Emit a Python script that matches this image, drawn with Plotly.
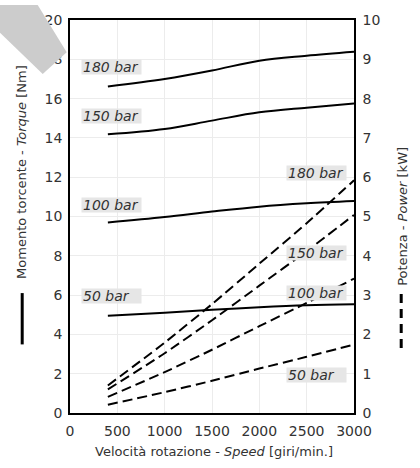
import plotly.graph_objects as go

speed = [400, 1000, 1500, 2000, 2500, 3000]
pressures = ["180 bar", "150 bar", "100 bar", "50 bar"]

torque = {
    "180 bar": [16.62, 17.00, 17.43, 17.93, 18.18, 18.38],
    "150 bar": [14.18, 14.45, 14.88, 15.30, 15.54, 15.75],
    "100 bar": [9.70, 9.97, 10.25, 10.50, 10.67, 10.79],
    "50 bar": [4.95, 5.10, 5.25, 5.38, 5.48, 5.53],
}
power = {
    "180 bar": [0.70, 1.79, 2.77, 3.80, 4.83, 5.92],
    "150 bar": [0.60, 1.52, 2.36, 3.24, 4.12, 5.04],
    "100 bar": [0.41, 1.04, 1.61, 2.21, 2.80, 3.42],
    "50 bar": [0.21, 0.53, 0.82, 1.13, 1.43, 1.74],
}
# label anchor positions (speed, value)
torque_label_x = 113
torque_label_y = {"180 bar": 17.6, "150 bar": 15.1, "100 bar": 10.58, "50 bar": 5.93}
power_label_x = 2284
power_label_y = {"180 bar": 6.11, "150 bar": 4.08, "100 bar": 3.05, "50 bar": 0.955}

x_ticks = [0, 500, 1000, 1500, 2000, 2500, 3000]
y_ticks = list(range(0, 21, 2))
y2_ticks = list(range(0, 11, 1))

FONT = "DejaVu Sans"
TXT = "#333333"

fig = go.Figure()
for p in pressures:
    fig.add_trace(go.Scatter(x=speed, y=torque[p], mode="lines", yaxis="y",
                             line=dict(color="black", width=2, shape="spline", smoothing=1),
                             hoverinfo="skip", showlegend=False))
for p in pressures:
    fig.add_trace(go.Scatter(x=speed, y=power[p], mode="lines", yaxis="y2",
                             line=dict(color="black", width=2, dash="10px,5px", shape="spline", smoothing=0.6),
                             hoverinfo="skip", showlegend=False))

annotations = []
for p in pressures:
    annotations.append(dict(x=torque_label_x, y=torque_label_y[p], xref="x", yref="y",
                            text=p, showarrow=False, xanchor="left", yanchor="middle",
                            align="left", width=57, height=12, borderpad=1,
                            bgcolor="#e6e6e6", font=dict(family=FONT, size=14, color=TXT, style="italic")))
    annotations.append(dict(x=power_label_x, y=power_label_y[p], xref="x", yref="y2",
                            text=p, showarrow=False, xanchor="left", yanchor="middle",
                            align="left", width=57, height=12, borderpad=1,
                            bgcolor="#e6e6e6", font=dict(family=FONT, size=14, color=TXT, style="italic")))


def px(xp):
    return (xp - 70.3) / 284


def py(yp):
    return (413.5 - yp) / 398.2


# axis titles
annotations.append(dict(x=px(214), y=py(453), xref="paper", yref="paper",
                        text="Velocità rotazione - <i>Speed</i> [giri/min.]", showarrow=False,
                        xanchor="center", yanchor="middle",
                        font=dict(family=FONT, size=13, color=TXT)))
annotations.append(dict(x=px(21), y=py(169.5), xref="paper", yref="paper",
                        text="Momento torcente - <i>Torque</i> [Nm]", showarrow=False, textangle=-90,
                        xanchor="center", yanchor="middle",
                        font=dict(family=FONT, size=13, color=TXT)))
annotations.append(dict(x=px(402), y=py(214), xref="paper", yref="paper",
                        text="Potenza - <i>Power</i> [kW]", showarrow=False, textangle=-90,
                        xanchor="center", yanchor="middle",
                        font=dict(family=FONT, size=13, color=TXT)))

shapes = [
    dict(type="line", xref="paper", yref="paper", x0=px(22.5), x1=px(22.5), y0=py(292), y1=py(344),
         line=dict(color="black", width=3)),
    dict(type="line", xref="paper", yref="paper", x0=px(401.5), x1=px(401.5), y0=py(293), y1=py(348),
         line=dict(color="black", width=3, dash="9px,6px")),
    dict(type="path", xref="paper", yref="paper", layer="above",
         path="M {:.4f},{:.4f} L {:.4f},{:.4f} L {:.4f},{:.4f} L {:.4f},{:.4f} L {:.4f},{:.4f} Z".format(
             px(0), py(0), px(38), py(0), px(67), py(48), px(43), py(70), px(0), py(28)),
         fillcolor="#cccccc", line=dict(width=0)),
]

axis_common = dict(showline=True, linecolor="black", linewidth=1.5, zeroline=False,
                   tickfont=dict(family=FONT, size=14, color=TXT), ticks="")

fig.update_layout(
    width=420, height=468,
    margin=dict(l=70, r=66, t=15, b=55),
    plot_bgcolor="white", paper_bgcolor="white",
    showlegend=False,
    xaxis=dict(range=[0, 3000], tickvals=x_ticks, mirror=True, gridcolor="#ececec",
               ticklabelstandoff=4, **axis_common),
    yaxis=dict(range=[0, 20], tickvals=y_ticks, mirror=True, gridcolor="#ececec",
               ticklabelstandoff=3, **axis_common),
    yaxis2=dict(range=[0, 10], tickvals=y2_ticks, overlaying="y", side="right", showgrid=False,
                ticklabelstandoff=4, **axis_common),
    annotations=annotations,
    shapes=shapes,
)

fig.write_html("out.html", config={"displayModeBar": False},
               post_script="document.body.style.margin='0';document.body.style.padding='0';")
